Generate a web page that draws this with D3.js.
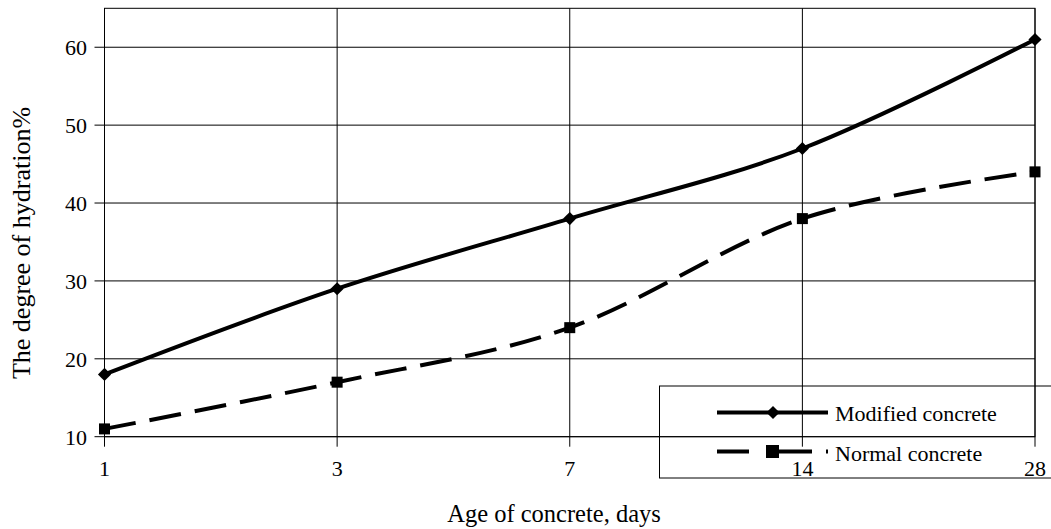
<!DOCTYPE html>
<html>
<head>
<meta charset="utf-8">
<script src="https://cdn.jsdelivr.net/npm/d3@7"></script>
<style>
  body { margin: 0; background: #fff; }
  text { font-family: "Liberation Serif", "Times New Roman", serif; fill: #000; }
</style>
</head>
<body>
<svg id="chart" width="1051" height="529"></svg>
<script>
// Data
var ages = ["1", "3", "7", "14", "28"];
var modified = [18, 29, 38, 47, 61];
var normal = [11, 17, 24, 38, 44];
var yTicks = [10, 20, 30, 40, 50, 60];

var svg = d3.select("#chart");
var margin = {left: 104.5, right: 16, top: 8.3, bottom: 92.3};
var w = 1051, h = 529;

var xScale = d3.scalePoint().domain(ages).range([margin.left, w - margin.right]);
var yScale = d3.scaleLinear().domain([10, 65]).range([h - margin.bottom, margin.top]);

// grid
svg.append("g").selectAll("line.hgrid")
   .data(yTicks)
   .enter().append("line")
   .attr("x1", margin.left - 10).attr("x2", w - margin.right)
   .attr("y1", function(d) { return yScale(d); })
   .attr("y2", function(d) { return yScale(d); })
   .attr("stroke", "#000").attr("stroke-width", 1);

svg.append("g").selectAll("line.vgrid")
   .data(ages)
   .enter().append("line")
   .attr("x1", function(d) { return xScale(d); })
   .attr("x2", function(d) { return xScale(d); })
   .attr("y1", margin.top).attr("y2", h - margin.bottom + 10)
   .attr("stroke", "#000").attr("stroke-width", 1);

// plot border
svg.append("rect")
   .attr("x", margin.left).attr("y", margin.top)
   .attr("width", w - margin.right - margin.left)
   .attr("height", h - margin.bottom - margin.top)
   .attr("fill", "none").attr("stroke", "#000").attr("stroke-width", 1);

// tick labels
svg.append("g").selectAll("text.ylab")
   .data(yTicks)
   .enter().append("text")
   .attr("x", 87)
   .attr("y", function(d) { return yScale(d) + 8; })
   .attr("text-anchor", "end")
   .style("font-size", "22px")
   .text(function(d) { return d; });

svg.append("g").selectAll("text.xlab")
   .data(ages)
   .enter().append("text")
   .attr("x", function(d) { return xScale(d); })
   .attr("y", 476)
   .attr("text-anchor", "middle")
   .style("font-size", "22px")
   .text(function(d) { return d; });

// axis titles
svg.append("text")
   .attr("x", 554).attr("y", 522)
   .attr("text-anchor", "middle")
   .style("font-size", "24.5px")
   .text("Age of concrete, days");

svg.append("text")
   .attr("transform", "translate(30,243) rotate(-90)")
   .attr("text-anchor", "middle")
   .style("font-size", "26px")
   .text("The degree of hydration%");

// lines
var line = d3.line()
   .x(function(d, i) { return xScale(ages[i]); })
   .y(function(d) { return yScale(d); })
   .curve(d3.curveCardinal.tension(0));

svg.append("path")
   .datum(modified)
   .attr("d", line)
   .attr("fill", "none").attr("stroke", "#000").attr("stroke-width", 4);

svg.append("path")
   .datum(normal)
   .attr("d", line)
   .attr("fill", "none").attr("stroke", "#000").attr("stroke-width", 4)
   .attr("stroke-dasharray", "32,14");

// markers
var diamond = d3.symbol().type(d3.symbolDiamond2).size(110);
svg.append("g").selectAll("path.dia")
   .data(modified)
   .enter().append("path")
   .attr("d", diamond)
   .attr("transform", function(d, i) { return "translate(" + xScale(ages[i]) + "," + yScale(d) + ")"; })
   .attr("fill", "#000");

svg.append("g").selectAll("rect.sq")
   .data(normal)
   .enter().append("rect")
   .attr("x", function(d, i) { return xScale(ages[i]) - 5.5; })
   .attr("y", function(d) { return yScale(d) - 5.5; })
   .attr("width", 11).attr("height", 11)
   .attr("fill", "#000");

// legend
var lg = svg.append("g");
lg.append("rect")
  .attr("x", 659.5).attr("y", 386).attr("width", 400).attr("height", 92)
  .attr("fill", "none").attr("stroke", "#000").attr("stroke-width", 1);

lg.append("line")
  .attr("x1", 717).attr("x2", 828).attr("y1", 412.5).attr("y2", 412.5)
  .attr("stroke", "#000").attr("stroke-width", 4);
lg.append("path")
  .attr("d", diamond)
  .attr("transform", "translate(773,412.5)")
  .attr("fill", "#000");
lg.append("text")
  .attr("x", 835).attr("y", 421)
  .style("font-size", "22px")
  .text("Modified concrete");

lg.append("line")
  .attr("x1", 717).attr("x2", 828).attr("y1", 451.5).attr("y2", 451.5)
  .attr("stroke", "#000").attr("stroke-width", 4)
  .attr("stroke-dasharray", "32,17,46,14,2,100");
lg.append("rect")
  .attr("x", 766).attr("y", 445).attr("width", 13).attr("height", 13)
  .attr("fill", "#000");
lg.append("text")
  .attr("x", 835).attr("y", 461)
  .style("font-size", "22px")
  .text("Normal concrete");
</script>
</body>
</html>
